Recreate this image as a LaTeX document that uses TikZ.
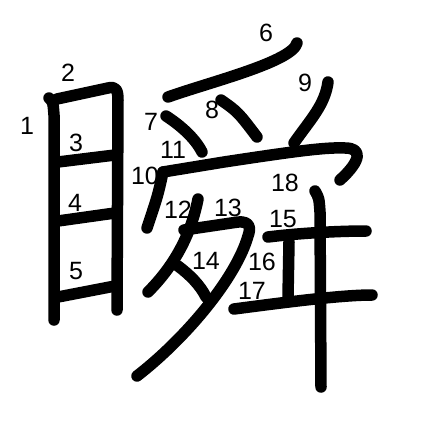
\documentclass[tikz,border=0pt]{standalone}
\usepackage{fontspec}
\setmainfont{Liberation Sans}
\begin{document}
\begin{tikzpicture}[x=1pt, y=-1pt,
    brush/.style={line width=11.5pt, line cap=round, line join=round},
    num/.style={font=\fontsize{25}{25}\selectfont, inner sep=0pt}]
    \useasboundingbox (0,0) rectangle (447,447);

    % Left part: eye
    \draw[brush] (49,98) .. controls (53,102) .. (54,115) -- (54,320);
    \draw[brush] (57,99) -- (108,88) .. controls (116,86) and (118,90) .. (118,100) -- (117,310);
    \draw[brush] (58,162) -- (115,155);
    \draw[brush] (58,221) -- (115,213);
    \draw[brush] (58,297) -- (115,286);

    % Claw on top
    \draw[brush] (297,43) .. controls (292,62) and (210,82) .. (168,97);
    \draw[brush] (166,116) .. controls (180,125) and (195,138) .. (202,152);
    \draw[brush] (221,100) .. controls (238,112) .. (257,137);
    \draw[brush] (328,82) .. controls (325,105) and (310,120) .. (294,143);

    % Cover
    \draw[brush] (163,172) .. controls (158,195) .. (147,228);
    \draw[brush] (163,172) -- (224,162) .. controls (290,152) and (325,147) .. (345,148)
        .. controls (362,148) and (362,160) .. (340,180);

    % Evening
    \draw[brush] (198,199) .. controls (190,240) and (170,270) .. (148,292);
    \draw[brush] (184,230) -- (238,222) .. controls (250,221) and (251,228) .. (248,236)
        .. controls (236,278) and (186,338) .. (137,376);
    \draw[brush] (178,266) .. controls (190,275) and (200,285) .. (206,297);

    % Right part
    \draw[brush] (268,237) .. controls (300,233) and (340,231) .. (366,231);
    \draw[brush] (289,242) -- (288,297);
    \draw[brush] (234,309) .. controls (280,303) and (340,295) .. (372,295);
    \draw[brush] (315,191) .. controls (319,198) .. (320,212) -- (321,387);

    % Stroke numbers
    \node[num] (n1) at (27,126) {1};
    \node[num] (n2) at (68,73) {2};
    \node[num] (n3) at (76,143) {3};
    \node[num] (n4) at (75,203) {4};
    \node[num] (n5) at (76,271) {5};
    \node[num] (n6) at (266,33) {6};
    \node[num] (n7) at (151,122) {7};
    \node[num] (n8) at (212,110) {8};
    \node[num] (n9) at (305,83) {9};
    \node[num] (n10) at (145,176) {10};
    \node[num] (n11) at (173,150) {11};
    \node[num] (n12) at (178,210) {12};
    \node[num] (n13) at (228,208) {13};
    \node[num] (n14) at (206,261) {14};
    \node[num] (n15) at (283,219) {15};
    \node[num] (n16) at (262,262) {16};
    \node[num] (n17) at (252,291) {17};
    \node[num] (n18) at (285,183) {18};
\end{tikzpicture}
\end{document}
